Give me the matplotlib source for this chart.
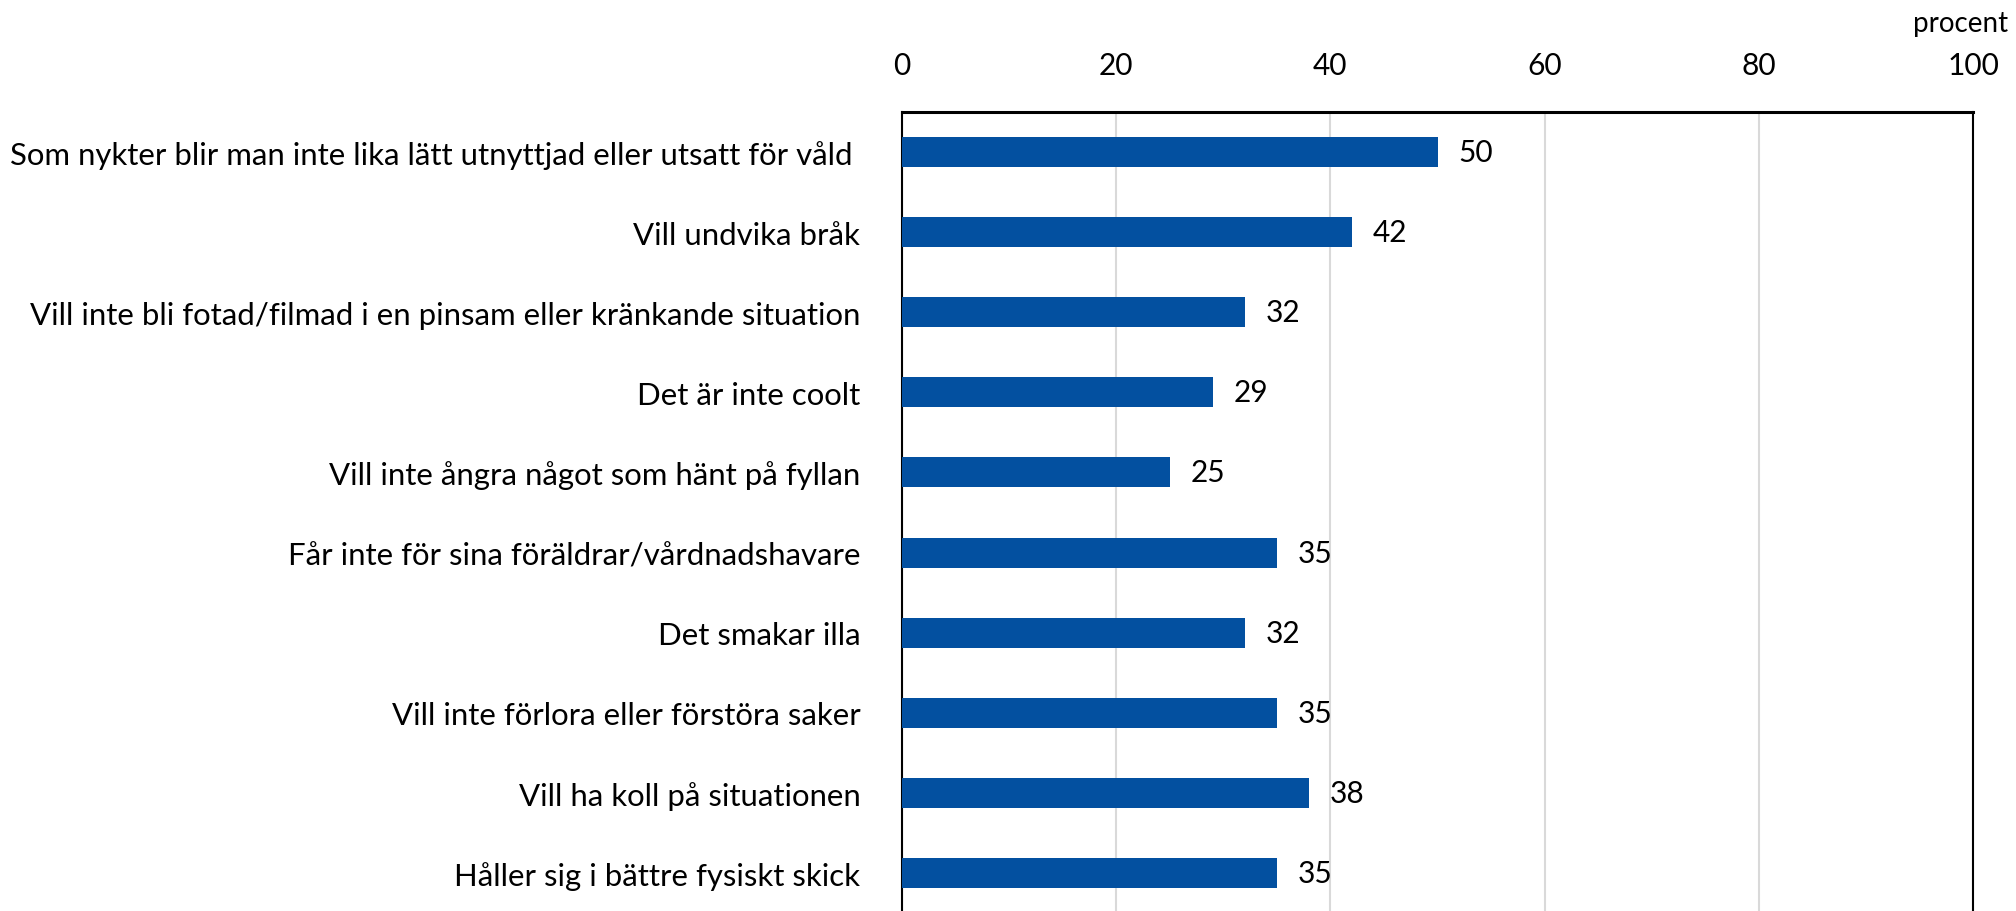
import matplotlib
matplotlib.use("Agg")
import matplotlib.pyplot as plt

categories = [
    "Som nykter blir man inte lika lätt utnyttjad eller utsatt för våld ",
    "Vill undvika bråk",
    "Vill inte bli fotad/filmad i en pinsam eller kränkande situation",
    "Det är inte coolt",
    "Vill inte ångra något som hänt på fyllan",
    "Får inte för sina föräldrar/vårdnadshavare",
    "Det smakar illa",
    "Vill inte förlora eller förstöra saker",
    "Vill ha koll på situationen",
    "Håller sig i bättre fysiskt skick",
]
values = [50, 42, 32, 29, 25, 35, 32, 35, 38, 35]
xticks = [0, 20, 40, 60, 80, 100]

plt.rcParams['font.family'] = ['Lato', 'DejaVu Sans']
W, H = 2016, 912
fig = plt.figure(figsize=(W / 100, H / 100), dpi=100)
ax = fig.add_axes([902 / W, -2 / H, (1973 - 902) / W, (914 - 113) / H])

y = list(range(len(categories)))
ax.barh(y, values, height=0.375, color='#0350A0', zorder=3)
ax.set_ylim(len(categories) - 0.5, -0.5)
ax.set_xlim(0, 100)
ax.set_xticks(xticks)
ax.set_xticklabels([str(t) for t in xticks], fontsize=21.5)
ax.xaxis.tick_top()
ax.tick_params(axis='x', length=0, pad=24)
ax.set_yticks(y)
ax.set_yticklabels(categories, fontsize=22.4)
ax.tick_params(axis='y', length=0, pad=30)
ax.grid(axis='x', color='#d9d9d9', linewidth=1.5, zorder=0)
ax.set_axisbelow(True)
for s in ['left', 'right']:
    ax.spines[s].set_linewidth(1.5)
    ax.spines[s].set_color('black')
ax.spines['top'].set_linewidth(2.2)
ax.spines['bottom'].set_visible(False)

for yi, v in zip(y, values):
    ax.annotate(str(v), xy=(v, yi), xytext=(15, 0), textcoords='offset points',
                ha='left', va='center', fontsize=21.5)

fig.text(2008 / W, 1 - 24 / H, "procent", ha='right', va='center', fontsize=20)

fig.savefig("out.png", dpi=100)
